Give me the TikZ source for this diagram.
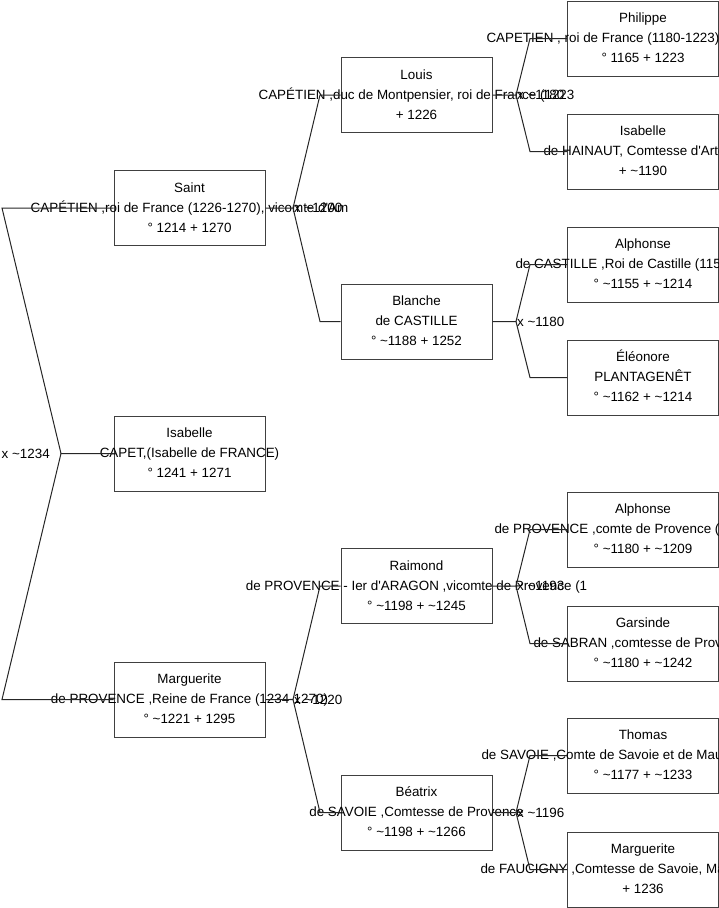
\documentclass[tikz,border=0pt]{standalone}
\usepackage{fontspec}
\setmainfont{Liberation Sans}[Ligatures=TeXOff]
\usetikzlibrary{positioning}

% three centred lines, each allowed to run past the box
\newcommand{\lines}[3]{\makebox[0pt]{\strut #1}\\\makebox[0pt]{\strut #2}\\\makebox[0pt]{\strut #3}}
% a line that runs off the page: full width, only the start shows
\newcommand{\cutoff}[2]{\makebox[#1pt][l]{#2}}
\newcommand{\ca}{\textasciitilde}

\begin{document}
\begin{tikzpicture}[
    x=1pt, y=-1pt,
    every node/.style = {font=\fontsize{13.4}{20}\selectfont},
    person/.style  = {draw=black!75, line width=1pt, minimum width=151pt, minimum height=75pt, inner sep=0pt, align=center},
    link/.style    = {draw=black!85, line width=1pt},
    wedding/.style = {inner sep=1pt}
]
\useasboundingbox (0,0) rectangle (719,908);
\clip (0,0) rectangle (719,908);

% first column
\node[person] (saint)      at (189.5, 208)   {\lines{Saint}{CAPÉTIEN ,roi de France (1226-1270), vicomte d'Am}{° 1214 + 1270}};
\node[person] (isabelle)   at (189.5, 453.5) {\lines{Isabelle}{CAPET,(Isabelle de FRANCE)}{° 1241 + 1271}};
\node[person] (marguerite) at (189.5, 699.5) {\lines{Marguerite}{de PROVENCE ,Reine de France (1234-1270)}{° \ca1221 + 1295}};

% second column
\node[person] (louis)   at (416.5, 95)    {\lines{Louis}{CAPÉTIEN ,duc de Montpensier, roi de France (1223}{+ 1226}};
\node[person] (blanche) at (416.5, 321.5) {\lines{Blanche}{de CASTILLE}{° \ca1188 + 1252}};
\node[person] (raimond) at (416.5, 586)   {\lines{Raimond}{de PROVENCE - Ier d'ARAGON ,vicomte de Provence (1}{° \ca1198 + \ca1245}};
\node[person] (beatrix) at (416.5, 812.5) {\lines{Béatrix}{de SAVOIE ,Comtesse de Provence}{° \ca1198 + \ca1266}};

% third column, cut by the right edge
\node[person] (philippe)    at (643, 38.5)  {\lines{Philippe}{\cutoff{313}{CAPETIEN , roi de France (1180-1223)}}{° 1165 + 1223}};
\node[person] (isabelleH)   at (643, 151.5) {\lines{Isabelle}{\cutoff{199}{de HAINAUT, Comtesse d'Artois}}{+ \ca1190}};
\node[person] (alphonseC)   at (643, 264.5) {\lines{Alphonse}{\cutoff{255}{de CASTILLE ,Roi de Castille (115}}{° \ca1155 + \ca1214}};
\node[person] (eleonore)    at (643, 377.5) {\lines{Éléonore}{PLANTAGENÊT}{° \ca1162 + \ca1214}};
\node[person] (alphonseP)   at (643, 529.5) {\lines{Alphonse}{\cutoff{297}{de PROVENCE ,comte de Provence (}}{° \ca1180 + \ca1209}};
\node[person] (garsinde)    at (643, 643.5) {\lines{Garsinde}{\cutoff{219}{de SABRAN ,comtesse de Prov}}{° \ca1180 + \ca1242}};
\node[person] (thomas)      at (643, 755.5) {\lines{Thomas}{\cutoff{323}{de SAVOIE ,Comte de Savoie et de Mau}}{° \ca1177 + \ca1233}};
\node[person] (margueriteF) at (643, 869.5) {\lines{Marguerite}{\cutoff{325}{de FAUCIGNY ,Comtesse de Savoie, Ma}}{+ 1236}};

% fork points
\coordinate (jRoot) at (61, 453.5);   \coordinate (kRoot) at (2, 0);
\coordinate (jSaint) at (293, 208);   \coordinate (kOne) at (320, 0);
\coordinate (jMarg) at (293, 699.5);
\coordinate (jLouis) at (516, 95);    \coordinate (kTwo) at (530, 0);
\coordinate (jBlan) at (516, 321.5);
\coordinate (jRaim) at (516, 586);
\coordinate (jBeat) at (516, 812.5);

% Isabelle -> her parents
\draw[link] (isabelle.west) -- (jRoot) -- (kRoot |- saint.west) -- (saint.west);
\draw[link] (jRoot) -- (kRoot |- marguerite.west) -- (marguerite.west);
\node[wedding, left=10pt of jRoot] {x \ca1234};

% first column -> second column
\draw[link] (saint.east) -- (jSaint) -- (kOne |- louis.west) -- (louis.west);
\draw[link] (jSaint) -- (kOne |- blanche.west) -- (blanche.west);
\node[wedding, anchor=west] at (jSaint) {x \ca1200};

\draw[link] (marguerite.east) -- (jMarg) -- (kOne |- raimond.west) -- (raimond.west);
\draw[link] (jMarg) -- (kOne |- beatrix.west) -- (beatrix.west);
\node[wedding, anchor=west] at (jMarg) {x \ca1220};

% second column -> third column
\draw[link] (louis.east) -- (jLouis) -- (kTwo |- philippe.west) -- (philippe.west);
\draw[link] (jLouis) -- (kTwo |- isabelleH.west) -- (isabelleH.west);
\node[wedding, anchor=west] at (jLouis) {x \ca1180};

\draw[link] (blanche.east) -- (jBlan) -- (kTwo |- alphonseC.west) -- (alphonseC.west);
\draw[link] (jBlan) -- (kTwo |- eleonore.west) -- (eleonore.west);
\node[wedding, anchor=west] at (jBlan) {x \ca1180};

\draw[link] (raimond.east) -- (jRaim) -- (kTwo |- alphonseP.west) -- (alphonseP.west);
\draw[link] (jRaim) -- (kTwo |- garsinde.west) -- (garsinde.west);
\node[wedding, anchor=west] at (jRaim) {x \ca1193};

\draw[link] (beatrix.east) -- (jBeat) -- (kTwo |- thomas.west) -- (thomas.west);
\draw[link] (jBeat) -- (kTwo |- margueriteF.west) -- (margueriteF.west);
\node[wedding, anchor=west] at (jBeat) {x \ca1196};

\end{tikzpicture}
\end{document}
